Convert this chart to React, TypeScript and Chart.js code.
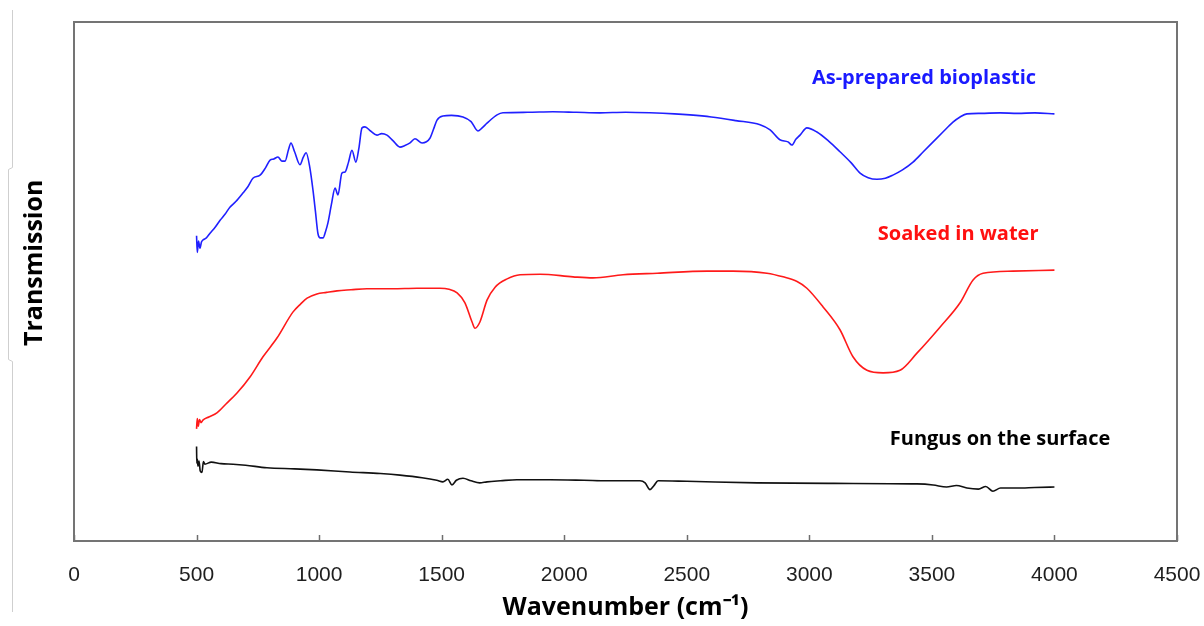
import React, { useEffect, useRef } from "react";
import { Chart, registerables } from "chart.js";

Chart.register(...registerables);

// Wavenumber tick labels (cm-1)
const xTickLabels = [0, 500, 1000, 1500, 2000, 2500, 3000, 3500, 4000, 4500];

// As-prepared bioplastic
const blueWn = [500, 503, 508, 514, 520, 526, 540, 555, 575, 596, 615, 636, 660, 690, 710, 730, 759, 780, 800, 815, 832, 848, 861, 875, 885, 900, 922, 935, 947, 962, 975, 985, 995, 1005, 1016, 1026, 1036, 1050, 1065, 1077, 1093, 1106, 1120, 1134, 1150, 1162, 1175, 1187, 1210, 1236, 1255, 1277, 1300, 1330, 1350, 1371, 1391, 1420, 1452, 1468, 1481, 1505, 1540, 1587, 1620, 1648, 1665, 1685, 1726, 1750, 1850, 1954, 2050, 2146, 2250, 2350, 2450, 2513, 2600, 2700, 2799, 2840, 2880, 2913, 2929, 2945, 2962, 2990, 3031, 3080, 3125, 3170, 3207, 3240, 3276, 3310, 3341, 3380, 3423, 3465, 3505, 3545, 3586, 3615, 3643, 3700, 3778, 3850, 3920, 4000];
const blueT = [58.8, 55.6, 57.8, 56.4, 57.6, 58.0, 58.4, 59.3, 60.4, 61.8, 62.9, 64.3, 65.4, 67.1, 68.3, 69.9, 70.5, 71.8, 73.4, 73.6, 74.0, 73.2, 73.2, 75.4, 76.7, 75.0, 72.5, 73.9, 74.8, 72.0, 67.6, 63.5, 59.3, 58.4, 58.4, 59.6, 61.3, 64.8, 68.0, 66.7, 70.9, 71.1, 73.0, 75.3, 73.0, 75.6, 79.6, 79.8, 79.0, 78.2, 78.5, 78.2, 77.2, 75.9, 76.2, 76.7, 77.5, 76.7, 77.6, 79.5, 81.1, 81.9, 82.0, 81.7, 80.8, 79.0, 79.6, 80.5, 82.1, 82.5, 82.6, 82.7, 82.6, 82.5, 82.6, 82.5, 82.3, 82.1, 81.7, 81.0, 80.2, 79.2, 77.3, 76.9, 76.3, 77.4, 78.2, 79.6, 78.8, 77.0, 75.0, 72.9, 70.9, 70.0, 69.7, 69.9, 70.5, 71.5, 73.0, 75.0, 76.9, 78.8, 80.7, 81.7, 82.3, 82.4, 82.5, 82.4, 82.5, 82.3];

// Soaked in water
const redWn = [500, 503, 507, 512, 518, 526, 550, 583, 620, 665, 718, 771, 828, 893, 925, 951, 991, 1030, 1073, 1130, 1195, 1300, 1399, 1493, 1530, 1563, 1595, 1624, 1636, 1656, 1685, 1718, 1767, 1820, 1901, 2036, 2117, 2240, 2379, 2583, 2689, 2827, 2893, 2950, 2990, 3056, 3125, 3178, 3235, 3301, 3370, 3439, 3533, 3615, 3668, 3709, 3831, 4000];
const redT = [21.6, 23.6, 22.1, 23.4, 22.8, 23.3, 23.9, 24.7, 26.4, 28.5, 31.6, 35.5, 39.1, 44.1, 45.7, 46.8, 47.6, 47.9, 48.2, 48.4, 48.6, 48.6, 48.7, 48.7, 48.5, 47.8, 45.9, 42.2, 41.0, 42.2, 46.4, 48.9, 50.5, 51.3, 51.4, 50.9, 50.7, 51.3, 51.6, 52.0, 52.0, 51.6, 50.9, 50.0, 48.7, 45.1, 40.7, 35.5, 32.9, 32.4, 32.9, 36.2, 41.2, 45.9, 50.3, 51.6, 52.0, 52.2];

// Fungus on the surface
const blackWn = [500, 501, 503, 506, 510, 515, 522, 528, 534, 560, 600, 649, 700, 787, 900, 991, 1126, 1250, 1330, 1420, 1480, 1505, 1525, 1542, 1560, 1587, 1620, 1655, 1685, 1740, 1807, 1942, 2080, 2175, 2309, 2330, 2350, 2365, 2383, 2500, 2787, 3100, 3439, 3505, 3560, 3600, 3643, 3690, 3720, 3749, 3780, 3847, 3920, 4000];
const blackT = [18.2, 15.0, 15.8, 14.4, 15.4, 13.5, 13.2, 15.3, 14.8, 15.2, 14.9, 14.8, 14.6, 14.1, 13.9, 13.7, 13.3, 13.0, 12.7, 12.2, 11.7, 11.4, 11.9, 10.8, 11.7, 12.1, 11.6, 11.2, 11.4, 11.6, 11.8, 11.8, 11.7, 11.6, 11.6, 11.2, 9.9, 10.6, 11.6, 11.5, 11.2, 11.1, 11.0, 10.8, 10.4, 10.7, 10.2, 10.0, 10.5, 9.6, 10.2, 10.2, 10.3, 10.4];

// Series annotations (text, centre wavenumber, transmission)
const labelTexts = ["As-prepared bioplastic", "Soaked in water", "Fungus on the surface"];
const labelWn = [3468, 3607, 3778];
const labelT = [89.2, 59.0, 19.5];
const labelColors = ["#1a1aff", "#ff1010", "#000000"];

const yTitle = "Transmission";
const xTitle = "Wavenumber (cm⁻¹)";

const toPoints = (xs: number[], ys: number[]) => xs.map((x, i) => ({ x, y: ys[i] }));

const framePlugin = {
  id: "frame",
  afterDraw(chart: any) {
    const { ctx, chartArea } = chart;
    const xs = chart.scales.x;
    const ys = chart.scales.y;
    ctx.save();
    // inward tick marks
    ctx.strokeStyle = "#6e6e6e";
    ctx.lineWidth = 1.5;
    xTickLabels.forEach((v) => {
      const px = Math.round(xs.getPixelForValue(v)) + 0.5;
      ctx.beginPath();
      ctx.moveTo(px, chartArea.bottom);
      ctx.lineTo(px, chartArea.bottom - 6);
      ctx.stroke();
    });
    // plot frame
    ctx.lineWidth = 2;
    ctx.strokeStyle = "#747474";
    ctx.strokeRect(chartArea.left, chartArea.top, chartArea.right - chartArea.left, chartArea.bottom - chartArea.top);
    // series labels
    ctx.font = "bold 20px 'Open Sans', sans-serif";
    ctx.textAlign = "center";
    ctx.textBaseline = "middle";
    labelTexts.forEach((t, i) => {
      ctx.fillStyle = labelColors[i];
      ctx.fillText(t, xs.getPixelForValue(labelWn[i]), ys.getPixelForValue(labelT[i]));
    });
    // y axis title
    ctx.fillStyle = "#000";
    ctx.font = "bold 25px 'Open Sans', sans-serif";
    ctx.translate(35, ys.getPixelForValue(53.6));
    ctx.rotate(-Math.PI / 2);
    ctx.fillText(yTitle, 0, 0);
    ctx.setTransform(1, 0, 0, 1, 0, 0);
    // faint crop edge on the left
    ctx.strokeStyle = "#cfcfcf";
    ctx.lineWidth = 1;
    ctx.beginPath();
    ctx.moveTo(12.5, 10);
    ctx.lineTo(12.5, 167.5);
    ctx.lineTo(8.5, 169.5);
    ctx.lineTo(8.5, 359.5);
    ctx.lineTo(12.5, 361.5);
    ctx.lineTo(12.5, 612);
    ctx.stroke();
    ctx.restore();
  },
};

export default function App() {
  const ref = useRef<HTMLCanvasElement | null>(null);

  useEffect(() => {
    document.body.style.margin = "0";
    const canvas = ref.current;
    if (!canvas) return;
    const mk = (xs: number[], ys: number[], color: string) => ({
      data: toPoints(xs, ys),
      borderColor: color,
      borderWidth: 1.6,
      pointRadius: 0,
      fill: false,
      cubicInterpolationMode: "monotone",
    });
    const chart = new Chart(canvas, {
      type: "line",
      data: {
        datasets: [
          mk(blueWn, blueT, "#2020ff"),
          mk(redWn, redT, "#ff1a1a"),
          mk(blackWn, blackT, "#111111"),
        ],
      },
      options: {
        animation: false,
        responsive: false,
        maintainAspectRatio: false,
        layout: { padding: { top: 22, right: 27, left: 0, bottom: 0 } },
        plugins: { legend: { display: false }, tooltip: { enabled: false } },
        scales: {
          x: {
            type: "linear",
            min: 0,
            max: 4500,
            afterFit: (s: any) => {
              s.height = 85;
              s.paddingLeft = 0;
              s.paddingRight = 0;
            },
            afterBuildTicks: (s: any) => {
              s.ticks = xTickLabels.map((v) => ({ value: v }));
            },
            ticks: {
              padding: 22,
              color: "#1e1e1e",
              font: { family: "'Liberation Sans', Arial, sans-serif", size: 21 },
              maxRotation: 0,
              callback: (v: any) => String(v),
            },
            grid: { display: true, drawOnChartArea: false, drawTicks: false, color: "rgba(0,0,0,0)" },
            border: { display: false },
            title: {
              display: true,
              text: xTitle,
              color: "#000",
              font: { family: "'Open Sans', sans-serif", size: 25, weight: "bold" },
              padding: { top: 0, bottom: 3 },
            },
          },
          y: {
            type: "linear",
            min: 0,
            max: 100,
            afterFit: (s: any) => {
              s.width = 74;
              s.paddingTop = 0;
              s.paddingBottom = 0;
            },
            ticks: { display: false },
            grid: { display: false },
            border: { display: false },
          },
        },
      },
      plugins: [framePlugin],
    });
    return () => chart.destroy();
  }, []);

  return (
    <div style={{ position: "absolute", left: 0, top: 0, width: 1204, height: 626, background: "#fff" }}>
      <canvas ref={ref} width={1204} height={626} />
    </div>
  );
}
